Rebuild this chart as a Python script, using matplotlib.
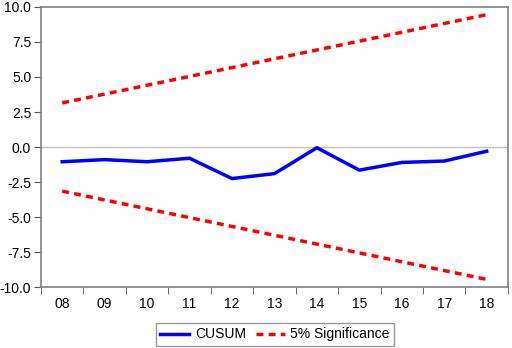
import matplotlib
matplotlib.use('Agg')
import matplotlib.pyplot as plt
import numpy as np

years = ["08", "09", "10", "11", "12", "13", "14", "15", "16", "17", "18"]
cusum = [-1.05, -0.9, -1.05, -0.8, -2.25, -1.9, -0.05, -1.65, -1.1, -1.0, -0.3]
upper = [3.15, 3.78, 4.41, 5.04, 5.67, 6.30, 6.93, 7.56, 8.19, 8.82, 9.45]
lower = [-3.15, -3.78, -4.41, -5.04, -5.67, -6.30, -6.93, -7.56, -8.19, -8.82, -9.45]

plt.rcParams["font.family"] = ["Liberation Sans", "DejaVu Sans"]
plt.rcParams["font.size"] = 10

fig = plt.figure(figsize=(5.12, 3.48), dpi=100)
ax = fig.add_axes([0.080, 0.175, 0.912, 0.805])

x = np.arange(len(years))
ax.axhline(0, color="#c0c0c0", lw=1, zorder=1)
ax.plot(x, cusum, color="#0000ff", lw=2.5, label="CUSUM", zorder=3)
ax.plot(x, upper, color="#ff0000", lw=2.5, ls=(0, (2, 1.5)), label="5% Significance", zorder=2)
ax.plot(x, lower, color="#ff0000", lw=2.5, ls=(0, (2, 1.5)), zorder=2)

ax.set_xlim(-0.5, len(years) - 0.5)
ax.set_ylim(-10, 10)
yt = np.arange(-10, 10.1, 2.5)
ax.set_yticks(yt)
ax.set_yticklabels([f"{v:.1f}" for v in yt])
ax.set_xticks(x)
ax.set_xticklabels(years)
ax.tick_params(axis="x", length=0, pad=7)
ax.set_xticks(np.arange(-0.5, len(years)), minor=True)
ax.tick_params(axis="x", which="minor", length=5, color="#555555", direction="out")
ax.tick_params(axis="y", length=5, color="#555555", pad=2)

for s in ax.spines.values():
    s.set_color("#808080")
    s.set_linewidth(1.2)

fig.legend(loc="lower center", bbox_to_anchor=(0.537, -0.005), ncol=2, frameon=True,
           fancybox=False, edgecolor="#808080", handlelength=2.1, columnspacing=0.7,
           borderpad=0.3, borderaxespad=0.3, handletextpad=0.4, fontsize=10)

fig.savefig("out.png", dpi=100)
plt.close()
